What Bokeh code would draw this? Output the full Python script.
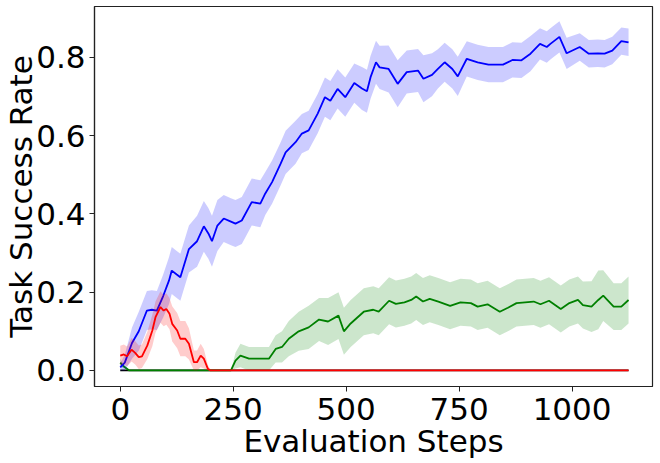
from bokeh.plotting import figure
from bokeh.embed import file_html
from bokeh.resources import INLINE
from bokeh.models import FixedTicker, PrintfTickFormatter

# ---------------- data ----------------
blue_x = [0, 10, 26, 41, 59, 70, 81, 95, 108, 114,
          125, 133, 152, 170, 185, 195, 203, 215, 229, 245,
          255, 269, 291, 310, 321, 336, 355, 366, 388, 402,
          417, 437, 453, 465, 481, 498, 518, 535, 546, 554,
          566, 574, 594, 614, 634, 659, 671, 690, 703, 718,
          735, 747, 767, 791, 815, 847, 868, 888, 908, 929,
          944, 952, 972, 988, 1017, 1037, 1057, 1072, 1089, 1109,
          1125]
blue_y = [0.008, 0.02, 0.07, 0.10, 0.153, 0.155, 0.153, 0.19, 0.23, 0.255,
          0.245, 0.238, 0.31, 0.33, 0.368, 0.35, 0.33, 0.37, 0.388, 0.38,
          0.375, 0.383, 0.43, 0.426, 0.452, 0.481, 0.528, 0.557, 0.583, 0.605,
          0.613, 0.656, 0.698, 0.689, 0.719, 0.698, 0.734, 0.72, 0.713, 0.749,
          0.787, 0.774, 0.770, 0.732, 0.762, 0.766, 0.745, 0.755, 0.770, 0.787,
          0.770, 0.751, 0.796, 0.787, 0.781, 0.781, 0.793, 0.792, 0.809, 0.834,
          0.826, 0.834, 0.852, 0.81, 0.826, 0.809, 0.81, 0.809, 0.817, 0.841,
          0.838]
blue_err = [0.01, 0.02, 0.04, 0.05, 0.05, 0.05, 0.05, 0.055, 0.06, 0.06,
            0.06, 0.06, 0.06, 0.065, 0.065, 0.065, 0.065, 0.065, 0.06, 0.06,
            0.06, 0.06, 0.06, 0.06, 0.055, 0.055, 0.055, 0.055, 0.055, 0.05,
            0.05, 0.05, 0.05, 0.05, 0.05, 0.05, 0.05, 0.055, 0.055, 0.055,
            0.055, 0.055, 0.06, 0.06, 0.055, 0.055, 0.06, 0.055, 0.05, 0.05,
            0.05, 0.05, 0.045, 0.045, 0.045, 0.045, 0.045, 0.045, 0.045, 0.04,
            0.04, 0.04, 0.04, 0.04, 0.035, 0.035, 0.035, 0.035, 0.035, 0.035,
            0.035]

red_x = [0, 8, 15, 25, 33, 41, 48, 60, 71, 78,
         89, 96, 102, 109, 115, 126, 133, 144, 152, 163,
         170, 178, 185, 194, 200, 1125]
red_y = [0.038, 0.041, 0.036, 0.053, 0.045, 0.034, 0.036, 0.064, 0.102, 0.136,
         0.162, 0.153, 0.157, 0.145, 0.119, 0.102, 0.081, 0.081, 0.068, 0.021,
         0.021, 0.038, 0.03, 0.004, 0.0, 0.0]
red_err = [0.025, 0.025, 0.025, 0.03, 0.03, 0.03, 0.03, 0.035, 0.04, 0.04,
           0.04, 0.04, 0.04, 0.04, 0.045, 0.045, 0.045, 0.045, 0.04, 0.03,
           0.03, 0.03, 0.025, 0.01, 0.0, 0.0]

green_x = [0, 8, 20, 245, 255, 266, 285, 329, 344, 358,
           373, 395, 417, 440, 460, 483, 495, 510, 539, 560,
           572, 595, 610, 629, 644, 655, 670, 685, 704, 730,
           753, 776, 791, 813, 840, 858, 877, 896, 915, 930,
           949, 975, 994, 1013, 1024, 1043, 1058, 1069, 1092, 1109,
           1125]
green_y = [0.02, 0.01, 0.0, 0.0, 0.025, 0.038, 0.03, 0.03, 0.055, 0.06,
           0.081, 0.10, 0.11, 0.13, 0.125, 0.14, 0.10, 0.12, 0.15, 0.155,
           0.150, 0.178, 0.170, 0.174, 0.180, 0.189, 0.176, 0.183, 0.176, 0.165,
           0.174, 0.172, 0.163, 0.169, 0.150, 0.160, 0.172, 0.174, 0.176, 0.169,
           0.178, 0.157, 0.172, 0.180, 0.167, 0.163, 0.180, 0.191, 0.163, 0.163,
           0.18]
green_err = [0.01, 0.005, 0.0, 0.0, 0.02, 0.03, 0.03, 0.03, 0.035, 0.04,
             0.045, 0.05, 0.055, 0.055, 0.06, 0.06, 0.06, 0.06, 0.06, 0.06,
             0.06, 0.06, 0.06, 0.06, 0.06, 0.06, 0.06, 0.06, 0.06, 0.06,
             0.06, 0.06, 0.06, 0.06, 0.06, 0.06, 0.06, 0.06, 0.06, 0.06,
             0.06, 0.06, 0.06, 0.06, 0.06, 0.065, 0.075, 0.065, 0.06, 0.06,
             0.06]

black_x = [0, 1125]
black_y = [0.0, 0.0]

x_ticks = [0, 250, 500, 750, 1000]
y_ticks = [0.0, 0.2, 0.4, 0.6, 0.8]


def band(y, e):
    lo = [max(0.0, a - b) for a, b in zip(y, e)]
    hi = [a + b for a, b in zip(y, e)]
    return lo, hi


p = figure(frame_width=558, frame_height=380,
           x_range=(-57, 1178), y_range=(-0.041, 0.9295),
           output_backend="svg", toolbar_location=None,
           min_border_left=87, min_border_right=2, min_border_top=6,
           min_border_bottom=0)

p.line(black_x, black_y, line_color="black", line_width=1.8)

lo, hi = band(green_y, green_err)
p.varea(x=green_x, y1=lo, y2=hi, fill_color="green", fill_alpha=0.2)
p.line(green_x, green_y, line_color="green", line_width=1.8)

lo, hi = band(blue_y, blue_err)
p.varea(x=blue_x, y1=lo, y2=hi, fill_color="blue", fill_alpha=0.2)
p.line(blue_x, blue_y, line_color="blue", line_width=1.8)

lo, hi = band(red_y, red_err)
p.varea(x=red_x, y1=lo, y2=hi, fill_color="red", fill_alpha=0.2)
p.line(red_x, red_y, line_color="red", line_width=1.8)

p.xgrid.visible = False
p.ygrid.visible = False
p.outline_line_color = "#222222"
p.outline_line_width = 1.2

p.xaxis.ticker = FixedTicker(ticks=x_ticks)
p.yaxis.ticker = FixedTicker(ticks=y_ticks)
p.yaxis.formatter = PrintfTickFormatter(format="%.1f")
p.xaxis.axis_label = "Evaluation Steps"
p.yaxis.axis_label = "Task Success Rate"

for ax in (p.xaxis, p.yaxis):
    ax.axis_line_color = "#222222"
    ax.axis_line_width = 1.2
    ax.major_tick_line_color = "#222222"
    ax.major_tick_out = 5
    ax.major_tick_in = 0
    ax.minor_tick_line_color = None
    ax.major_label_text_font = "DejaVu Sans"
    ax.major_label_text_font_size = "31px"
    ax.major_label_text_color = "black"
    ax.axis_label_text_font = "DejaVu Sans"
    ax.axis_label_text_font_size = "31px"
    ax.axis_label_text_font_style = "normal"
    ax.axis_label_text_color = "black"

p.xaxis.major_label_standoff = 6
p.yaxis.major_label_standoff = 4
p.xaxis.axis_label_standoff = 0
p.yaxis.axis_label_standoff = -6

open("out.html", "w").write(file_html(p, INLINE))
